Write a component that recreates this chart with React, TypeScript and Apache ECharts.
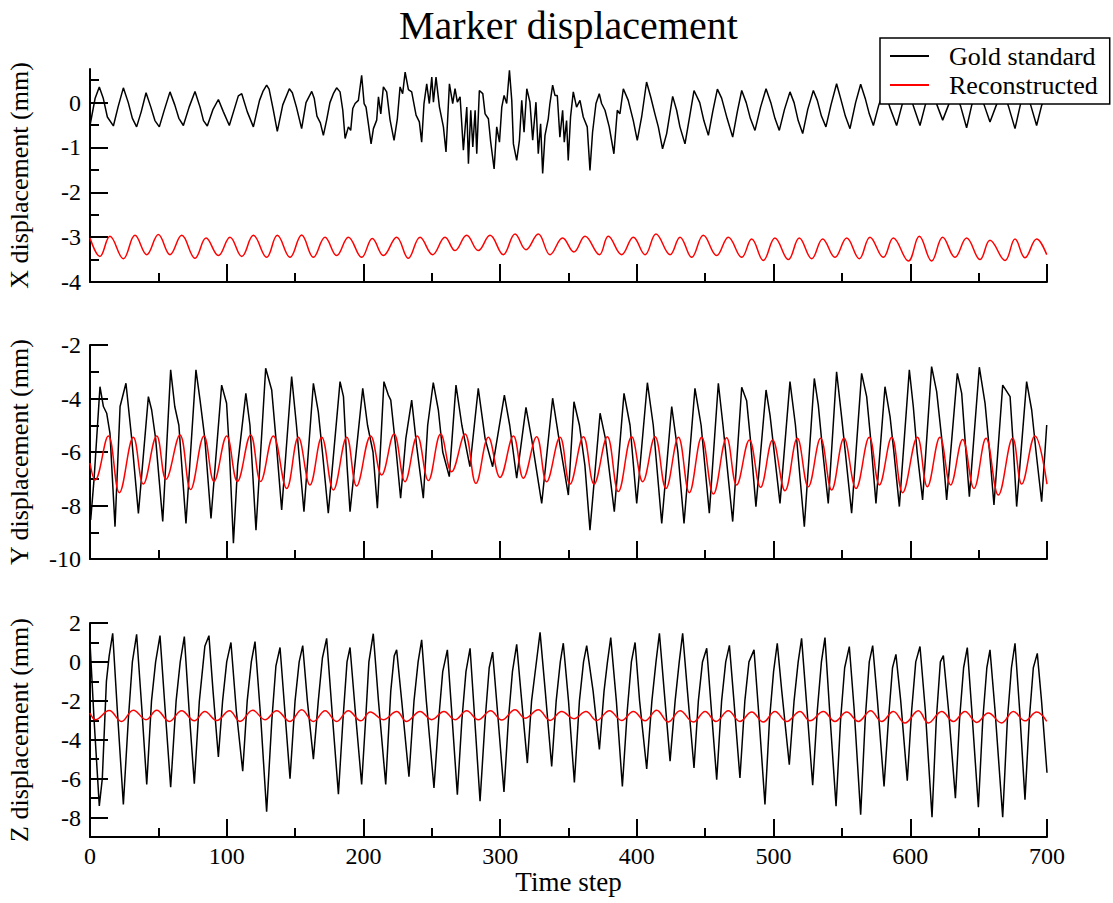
import React, { useEffect, useRef } from 'react';
import * as echarts from 'echarts';

const FONT = "'Liberation Serif', 'DejaVu Serif', 'Times New Roman', serif";

const titleText = 'Marker displacement';
const xAxisName = 'Time step';
const panelNames = ['X displacement (mm)', 'Y displacement (mm)', 'Z displacement (mm)'];
const seriesNames = ['Gold standard', 'Reconstructed'];

const xMajorTicks = [0, 100, 200, 300, 400, 500, 600, 700];
const xMinorTicks = [50, 150, 250, 350, 450, 550, 650];
const yRanges = [[-4, 0.75], [-10, -2], [-9, 2]];
const yMajorTicks = [[-4, -3, -2, -1, 0], [-10, -8, -6, -4, -2], [-8, -6, -4, -2, 0, 2]];
const yMinorTicks = [[-3.5, -2.5, -1.5, -0.5, 0.5], [-9, -7, -5, -3], [-7, -5, -3, -1, 1]];

// X displacement, gold standard [time step, mm]
const xGold = [
  [0,-0.51],[3.7,0.09],[6.8,0.35],[9.75,0.09],[12.7,-0.32],[17.1,-0.52],[20.5,-0.1],[24.4,0.33],[28,0.0],[31,-0.35],
  [34.1,-0.54],[37.5,-0.2],[41,0.22],[44.5,-0.1],[47.5,-0.4],[50.7,-0.54],[54.5,-0.15],[58.5,0.24],[62,-0.05],[65,-0.35],
  [68.3,-0.51],[72.5,-0.1],[76.8,0.25],[80.5,-0.1],[83,-0.4],[85.8,-0.52],[90,-0.15],[93.9,0.07],[97.5,-0.2],[101.9,-0.51],
  [106,-0.1],[108.5,0.15],[111,0.2],[115,-0.2],[119.5,-0.54],[124,0.05],[126.5,0.25],[129.2,0.39],[131,0.3],[134,-0.15],
  [137,-0.64],[141,-0.05],[145.8,0.31],[148,0.22],[151,-0.1],[154.8,-0.58],[158,0.0],[162.2,0.25],[164,0.1],[166,-0.3],
  [168.5,-0.45],[170.7,-0.73],[173,-0.4],[175.5,0.0],[178,0.2],[180.4,0.33],[182.9,0.24],[184.9,-0.17],[186.6,-0.8],[189,-0.54],
  [190.7,-0.62],[192.2,-0.13],[193.9,-0.02],[196.3,0.05],[198.7,0.61],[200.5,-0.02],[201.9,-0.1],[203.6,-0.47],[205.6,-0.92],[207.3,-0.58],
  [209.7,-0.39],[211,0.13],[212.7,-0.25],[214.6,0.35],[217,0.24],[219.5,-0.39],[222.4,-0.84],[224.8,-0.36],[226.8,0.35],[228.7,0.2],
  [230.5,0.68],[232.9,0.29],[235.3,0.24],[238.5,-0.28],[240.9,-0.43],[242.6,-0.88],[244.3,-0.02],[246.3,0.42],[248.2,-0.02],[250,0.57],
  [251.2,0.01],[253.1,0.57],[255.6,-0.1],[258.5,-0.54],[260.4,-1.1],[262.9,0.42],[265.3,-0.02],[267,0.31],[268.7,0.01],[270.7,0.13],
  [273.1,-1.06],[275.6,-0.1],[276.8,-1.36],[278.5,-0.17],[280,-0.99],[281.7,-0.17],[282.9,-1.14],[284.8,0.27],[287.3,0.2],[289,-0.25],
  [291.4,-0.36],[293.1,-0.88],[295.6,-1.48],[297.5,-0.54],[299.5,-0.88],[301.2,-0.1],[302.9,0.16],[304.8,-0.02],[306.8,0.72],[308.5,0.05],
  [309.7,-0.92],[312.1,-1.29],[314.1,-0.84],[315.8,0.05],[317.5,-0.66],[319.5,0.31],[321.8,0.01],[323.8,-0.84],[326.2,0.01],[327.9,-1.14],
  [329.6,-0.47],[331.1,-1.58],[332.8,-0.73],[335.2,-0.36],[336.4,-0.02],[338.4,0.39],[340.1,0.16],[341.8,0.16],[343.7,-0.77],[345.7,-0.17],
  [346.9,-0.88],[348.6,-0.4],[349.8,-1.29],[351.5,-0.32],[353.5,0.24],[355.9,-0.1],[358.4,0.05],[360.8,-0.32],[363.7,-0.54],[365.7,-1.51],
  [367.6,-0.66],[370.1,-0.02],[372.5,0.2],[374.2,-0.02],[376.7,-0.17],[379.8,-0.54],[383.2,-1.14],[385.7,-0.17],[387.6,-0.25],[390.1,0.31],
  [393.7,0.05],[397.4,-0.4],[400.3,-0.84],[403.5,-0.32],[407.1,0.46],[410.1,0.13],[413.2,-0.25],[415.7,-0.54],[418.8,-1.03],[421.8,-0.69],
  [426.2,0.14],[429.1,-0.17],[431.5,-0.54],[435.2,-0.92],[438.8,-0.28],[441.8,0.27],[446,0.0],[449,-0.4],[452.3,-0.73],[455.5,-0.2],
  [458.9,0.3],[462,0.1],[466,-0.35],[470.1,-0.77],[473.5,-0.2],[476.7,0.27],[480,0.0],[483,-0.35],[486.4,-0.62],[490.5,-0.1],
  [494.5,0.31],[498,0.0],[501,-0.35],[504.2,-0.62],[508,-0.15],[512,0.24],[515,0.0],[518,-0.4],[521.3,-0.69],[525,-0.15],
  [529.1,0.27],[532,0.05],[535,-0.3],[538.3,-0.54],[542,-0.05],[546.1,0.42],[549,0.1],[552.5,-0.3],[555.9,-0.58],[560,0.0],
  [563.7,0.41],[567,0.1],[570,-0.25],[573,-0.51],[577,-0.05],[581,0.3],[585,-0.1],[590,-0.51],[594,-0.05],[598.5,0.3],
  [602.5,-0.1],[607.1,-0.51],[611,-0.05],[615.5,0.3],[619.5,-0.05],[623.7,-0.39],[628,-0.05],[632.5,0.3],[637,-0.1],[641.2,-0.56],
  [645,-0.05],[649.5,0.3],[654,-0.05],[658.3,-0.43],[663,-0.05],[667.5,0.3],[672,-0.1],[676.6,-0.58],[680.5,-0.05],[684.5,0.3],
  [688.5,-0.1],[692.4,-0.51],[696.1,-0.06],[700,0.2],
];

// X displacement, reconstructed
const xRecon = [
  [0,-3.02],[7.3,-3.43],[14.6,-2.98],[24.4,-3.48],[32.9,-2.96],[41.5,-3.39],[50,-2.94],[58.5,-3.39],[67.1,-2.96],[76.8,-3.47],
  [84.9,-3.02],[93.9,-3.41],[102.4,-3.0],[111,-3.43],[119.5,-2.96],[129.2,-3.45],[137,-2.96],[146.3,-3.45],[154.8,-2.95],[163.4,-3.45],
  [171.9,-3.0],[180.4,-3.41],[189,-3.0],[198.7,-3.45],[206.5,-3.03],[214.6,-3.41],[224.3,-3.0],[232.8,-3.47],[241.4,-3.0],[250.6,-3.39],
  [259.7,-3.0],[267,-3.3],[275.5,-2.96],[284,-3.3],[292.6,-2.96],[302.3,-3.39],[310.9,-2.93],[318.9,-3.28],[327.9,-2.93],[336.5,-3.39],
  [345.7,-3.02],[354,-3.33],[362.1,-2.98],[372.6,-3.39],[379.1,-2.98],[388.9,-3.39],[397.4,-3.0],[406,-3.39],[414,-2.93],[424.3,-3.39],
  [431.6,-3.0],[440.1,-3.45],[448.6,-2.96],[458.4,-3.41],[466.9,-3.0],[476.7,-3.45],[484,-3.04],[492.5,-3.52],[501,-3.02],[510.8,-3.5],
  [518.8,-3.02],[527.9,-3.48],[535.9,-3.04],[544.9,-3.45],[553.5,-3.02],[562.7,-3.48],[570.5,-3.0],[580.3,-3.45],[587.6,-3.02],[598.6,-3.53],
  [606.6,-2.98],[615.6,-3.53],[623.7,-3.0],[632.7,-3.45],[641.2,-3.02],[651,-3.5],[658.3,-3.07],[669.3,-3.52],[676.6,-3.04],[683.9,-3.46],
  [692.4,-3.04],[699.8,-3.39],
];

// Y displacement, gold standard
const yGold = [
  [0.5,-8.54],[3,-7.0],[7.3,-3.56],[9.8,-4.3],[12.2,-4.55],[14.6,-5.3],[18.3,-8.79],[22,-4.3],[26.3,-3.43],[30.5,-5.5],
  [35.4,-8.3],[42.7,-3.93],[45.1,-4.43],[48,-5.5],[53.2,-8.6],[59,-2.93],[62,-4.3],[65,-5.0],[70.2,-8.67],[77.5,-2.93],
  [80.5,-4.06],[84,-5.5],[88.5,-8.48],[96.3,-3.5],[99.9,-4.18],[102,-6.0],[104.9,-9.41],[108,-6.5],[114,-3.81],[117,-5.0],
  [121.4,-8.92],[128.5,-2.87],[132.9,-3.68],[136,-5.5],[140.2,-8.17],[147.5,-3.18],[151,-5.0],[156.5,-8.23],[163.4,-3.43],[167,-4.5],
  [170,-6.0],[174.3,-8.29],[182.9,-3.37],[185.4,-3.93],[188,-6.5],[190.2,-8.23],[199.5,-3.62],[203,-5.0],[207,-6.0],[210.2,-8.1],
  [215,-3.37],[218.2,-3.87],[220,-4.06],[224,-6.0],[227.2,-7.73],[231,-5.5],[235.3,-4.06],[239,-5.8],[243.8,-7.73],[247,-5.0],
  [251.1,-3.41],[254.8,-4.43],[258,-6.0],[262.8,-6.92],[267.7,-3.5],[272,-5.0],[277.9,-6.55],[284,-3.62],[289,-5.5],[294.5,-6.55],
  [303.1,-3.87],[307,-5.0],[312.1,-6.98],[318.9,-4.33],[323,-5.5],[330.4,-7.92],[338.4,-3.99],[343,-5.5],[349.9,-7.61],[354,-4.12],
  [358,-5.0],[362,-6.5],[365.7,-8.92],[373.1,-4.55],[377,-5.5],[383.5,-8.23],[390.6,-3.81],[395,-5.0],[399.9,-7.92],[407.7,-3.41],
  [412,-5.0],[418.2,-8.67],[425.5,-4.3],[430,-6.0],[434.5,-8.67],[442.5,-3.62],[447,-5.0],[453,-8.29],[459.6,-3.43],[463,-5.0],
  [470.1,-8.6],[476.7,-3.58],[480.3,-4.08],[483,-5.5],[487.1,-8.04],[494.5,-3.68],[497.4,-4.62],[500,-5.8],[504.7,-7.92],[512,-3.37],
  [516,-5.0],[522.5,-8.79],[529.8,-3.25],[532.7,-4.24],[536,-6.0],[540,-7.92],[546.1,-3.0],[550,-4.8],[557.1,-8.29],[564.4,-3.06],
  [568.1,-3.93],[571,-5.5],[574.9,-7.92],[581.5,-3.56],[585.2,-4.68],[588,-6.0],[592,-8.04],[599.3,-2.93],[602.2,-4.3],[605,-6.0],
  [609,-7.79],[615.6,-2.81],[619.3,-3.74],[623,-5.5],[626.6,-7.79],[634.4,-3.06],[637.6,-3.81],[640,-5.5],[643.2,-7.67],[650.5,-2.83],
  [654.7,-4.18],[658,-6.0],[661.2,-7.98],[667.6,-3.5],[673,-3.93],[675,-5.5],[677.8,-8.04],[685.1,-3.37],[688.8,-4.43],[692,-6.0],
  [696.1,-7.86],[699.8,-4.99],
];

// Y displacement, reconstructed
const yRecon = [
  [0,-6.42],[3.7,-7.05],[13.4,-5.4],[21.5,-7.52],[31.7,-5.45],[39,-7.2],[48.8,-5.4],[55.6,-7.02],[65.8,-5.36],[73.6,-7.4],
  [83.4,-5.4],[90.7,-7.1],[100,-5.4],[107.8,-7.1],[117.5,-5.36],[124.8,-7.1],[134.1,-5.4],[143.9,-7.36],[152.4,-5.45],[160.9,-7.23],
  [169.5,-5.45],[178,-7.42],[187.8,-5.45],[195,-7.27],[205.3,-5.4],[213.3,-6.86],[222.4,-5.33],[230.4,-7.11],[239.4,-5.4],[247.5,-7.07],
  [256.5,-5.33],[264.5,-6.74],[274.3,-5.33],[282.3,-7.17],[291.4,-5.45],[299.9,-6.95],[309.7,-5.4],[317,-6.98],[326.7,-5.43],[334,-7.11],
  [343.8,-5.45],[351.1,-7.2],[360.9,-5.43],[368.7,-7.2],[378.4,-5.43],[386.5,-7.48],[396.2,-5.43],[404.3,-7.11],[413.3,-5.43],[421.3,-7.36],
  [430.4,-5.45],[438.4,-7.52],[447.4,-5.45],[456,-7.57],[465.7,-5.47],[473,-7.23],[482.3,-5.55],[490.5,-7.32],[499.3,-5.55],[508.4,-7.45],
  [517.4,-5.49],[525.4,-7.3],[534.4,-5.49],[542.5,-7.42],[551.5,-5.49],[560.3,-7.36],[570,-5.45],[577.4,-7.23],[586.4,-5.45],[594.4,-7.52],
  [605.2,-5.45],[612.5,-7.3],[621.7,-5.45],[629.5,-7.23],[638.3,-5.53],[646.6,-7.36],[655.4,-5.49],[664.4,-7.61],[674.9,-5.49],[681.5,-7.2],
  [691.2,-5.4],[700,-7.2],
];

// Z displacement, gold standard
const zGold = [
  [0,1.0],[3,-3.0],[6.8,-7.4],[9,-6.0],[12,-1.0],[14,0.3],[16.6,1.47],[20,-2.5],[24.4,-7.33],[28,-3.0],
  [31,0.0],[34.1,1.42],[38,-2.5],[41.5,-6.3],[45,-2.0],[48,0.0],[51.2,1.35],[55,-2.5],[59,-6.44],[63,-2.0],
  [66,0.0],[69,1.3],[72.5,-2.5],[76.3,-6.26],[80,-2.0],[84,0.8],[87,1.35],[90,-1.5],[93.9,-4.89],[97,-2.0],
  [100,0.0],[103.1,1.0],[107,-2.5],[111.7,-5.62],[115,-2.0],[118,0.0],[120.7,1.04],[125,-3.0],[129.2,-7.7],[133,-3.0],
  [136,-0.2],[139,0.74],[142.5,-2.5],[146.3,-6.0],[150,-2.0],[153,0.0],[155.6,0.84],[159,-2.0],[163.4,-5.0],[167,-2.0],
  [170,0.2],[173.1,1.21],[177,-2.5],[181.7,-6.8],[185,-3.0],[188,0.0],[190.2,0.74],[194,-2.5],[198.7,-6.3],[202,-2.5],
  [204,0.0],[207.2,1.45],[211,-2.0],[216.3,-6.3],[220,-1.5],[222.5,0.3],[224.3,0.62],[228,-2.0],[233.3,-5.9],[237,-2.0],
  [240,0.0],[242.6,1.13],[246,-2.0],[251.6,-6.48],[255,-3.0],[258,-0.5],[261.4,0.62],[264.5,-2.5],[268.7,-6.82],[272,-3.0],
  [275,-0.5],[278,0.7],[281,-2.5],[285.3,-7.16],[289,-3.0],[292,-0.3],[294.5,0.5],[298,-2.5],[302.8,-6.68],[306,-3.0],
  [309,-0.5],[312.1,0.9],[315.5,-1.8],[319.9,-5.2],[323,-2.0],[326,-0.3],[329.2,1.52],[333,-1.5],[337.7,-5.37],[341,-2.0],
  [344,0.0],[346.2,0.96],[350,-2.0],[354.3,-6.2],[358,-2.0],[361,0.0],[363.3,0.84],[368,-1.5],[372.6,-4.5],[376,-1.5],
  [378.5,0.0],[380.9,1.25],[385,-2.0],[389.4,-6.4],[393,-2.5],[396,0.0],[398.7,1.0],[402,-2.0],[407.2,-5.5],[411,-2.0],
  [414,0.0],[416.5,1.47],[420,-1.5],[424.3,-5.1],[428,-2.0],[431,0.0],[433.5,1.47],[437,-1.5],[441.8,-5.45],[445,-2.0],
  [448,0.0],[451.1,0.7],[454,-2.0],[458.4,-6.05],[462,-2.0],[465,0.0],[467.7,0.85],[471,-2.0],[475.4,-5.97],[479,-2.0],
  [482,0.0],[485.7,0.62],[489,-2.5],[493.7,-7.33],[497,-3.0],[500,-0.5],[502.7,0.96],[506,-1.5],[511.5,-5.28],[515,-2.0],
  [518,0.0],[520.5,1.21],[524,-2.0],[528.6,-6.34],[532,-2.5],[535,0.0],[537.6,1.25],[541,-2.5],[545.7,-7.42],[549,-3.0],
  [552,-0.3],[555.4,0.79],[559,-2.5],[563.7,-7.85],[567,-3.0],[570,0.0],[572.5,0.84],[576,-2.0],[580.8,-6.4],[584,-3.0],
  [587,-0.3],[589.5,0.39],[593,-2.0],[597.8,-6.1],[601,-2.5],[604,0.0],[607.1,0.79],[611,-2.5],[615.9,-7.98],[619,-3.0],
  [622,0.0],[624.2,0.32],[628,-2.5],[633,-7.0],[636,-3.0],[639,-0.3],[641.7,0.74],[645,-2.5],[649.8,-7.47],[653,-3.0],
  [656,-0.3],[658.3,0.62],[662,-2.5],[667.6,-7.98],[671,-3.0],[674,-0.3],[676.6,0.96],[680,-2.5],[683.9,-7.08],[687,-3.0],
  [690,-0.3],[692.9,0.44],[696,-2.0],[700,-5.7],
];

// Z displacement, reconstructed
const zRecon = [
  [0,-2.63],[4,-2.97],[14,-2.5],[23,-3.06],[31.7,-2.48],[41,-2.97],[48.8,-2.48],[58,-3.06],[67,-2.51],[76.3,-3.03],
  [84,-2.55],[92.7,-3.01],[102,-2.51],[109.7,-3.06],[119,-2.48],[128,-2.97],[136.5,-2.51],[146.3,-3.06],[154.8,-2.46],[163.4,-3.06],
  [172,-2.51],[180.4,-3.06],[189,-2.51],[198,-3.03],[205,-2.58],[214.6,-2.97],[224.3,-2.55],[231.6,-3.06],[241.4,-2.55],[249.9,-2.97],
  [258.9,-2.55],[267,-2.97],[275.5,-2.51],[284,-2.97],[293,-2.51],[301.1,-2.99],[310.9,-2.46],[318.2,-2.89],[327.9,-2.46],[336.5,-3.01],
  [345,-2.55],[354,-2.92],[362.8,-2.55],[370.6,-3.01],[379.9,-2.51],[388.9,-3.01],[397.4,-2.55],[406,-3.03],[414.5,-2.48],[423,-3.09],
  [431.6,-2.51],[441.3,-3.09],[449.9,-2.55],[457.9,-3.06],[466.9,-2.51],[475.4,-3.06],[484,-2.58],[492.5,-3.09],[501,-2.55],[509.6,-3.06],
  [519.3,-2.55],[526.6,-3.03],[536.4,-2.55],[544.9,-3.06],[553.5,-2.58],[562,-3.06],[571,-2.51],[579.1,-3.06],[587.6,-2.55],[596.1,-3.14],
  [605.9,-2.51],[613.2,-3.14],[623,-2.55],[631.5,-3.06],[640,-2.55],[648.6,-3.11],[657.1,-2.63],[666.8,-3.14],[675.4,-2.55],[683.9,-3.03],
  [692.4,-2.58],[699.8,-3.06],
];

const goldData = [xGold, yGold, zGold];
const reconData = [xRecon, yRecon, zRecon];

export default function App() {
  const ref = useRef<HTMLDivElement>(null);

  useEffect(() => {
    if (!ref.current) return;
    const chart = echarts.init(ref.current, null, { renderer: 'svg' });

    const gridTops = [69, 345, 623];
    const gridHeights = [213, 214, 214];
    const AX = '#000';
    const grids = gridTops.map((t, i) => ({
      left: 90, width: 957, top: t, height: gridHeights[i], containLabel: false, outerBoundsMode: 'none',
    }));

    const tickLine = { color: AX, width: 2 };
    const labelStyle = { color: '#000', fontSize: 24, fontFamily: FONT, fontWeight: 'normal' };
    const xAxes: any[] = [];
    const yAxes: any[] = [];
    for (let i = 0; i < 3; i++) {
      xAxes.push({
        type: 'value', gridIndex: i, position: 'bottom', min: 0, max: 700,
        axisLine: { show: true, onZero: false, lineStyle: { color: AX, width: 2 } },
        axisTick: { show: true, inside: true, length: 18, customValues: xMajorTicks, lineStyle: tickLine },
        axisLabel: { show: i === 2, customValues: xMajorTicks, margin: 7, ...labelStyle },
        splitLine: { show: false },
        name: i === 2 ? xAxisName : '',
        nameLocation: 'middle', nameGap: 31,
        nameTextStyle: { fontSize: 27, fontFamily: FONT, color: '#000' },
      });
      yAxes.push({
        type: 'value', gridIndex: i, position: 'left', min: yRanges[i][0], max: yRanges[i][1],
        axisLine: { show: true, onZero: false, lineStyle: { color: AX, width: 2 } },
        axisTick: { show: true, inside: true, length: 18, customValues: yMajorTicks[i], lineStyle: tickLine },
        axisLabel: { show: true, customValues: yMajorTicks[i], margin: 9, ...labelStyle },
        splitLine: { show: false },
        name: panelNames[i], nameLocation: 'middle', nameGap: 58,
        nameTextStyle: { fontSize: 26, fontFamily: FONT, color: '#000' },
      });
    }
    for (let i = 0; i < 3; i++) {
      xAxes.push({
        type: 'value', gridIndex: i, position: 'bottom', offset: 0, min: 0, max: 700,
        axisLine: { show: false, onZero: false },
        axisTick: { show: true, inside: true, length: 9, customValues: xMinorTicks, lineStyle: tickLine },
        axisLabel: { show: false }, splitLine: { show: false },
      });
      yAxes.push({
        type: 'value', gridIndex: i, position: 'left', offset: 0, min: yRanges[i][0], max: yRanges[i][1],
        axisLine: { show: false, onZero: false },
        axisTick: { show: true, inside: true, length: 9, customValues: yMinorTicks[i], lineStyle: tickLine },
        axisLabel: { show: false }, splitLine: { show: false },
      });
    }

    const series: any[] = [];
    for (let i = 0; i < 3; i++) {
      series.push({
        type: 'line', name: seriesNames[0], xAxisIndex: i, yAxisIndex: i,
        data: goldData[i], showSymbol: false, symbol: 'none', smooth: false,
        color: '#000', itemStyle: { color: '#000' },
        lineStyle: { color: '#000', width: 1.5 }, z: 3,
      });
      series.push({
        type: 'line', name: seriesNames[1], xAxisIndex: i, yAxisIndex: i,
        data: reconData[i], showSymbol: false, symbol: 'none', smooth: 0.4,
        color: '#ff0000', itemStyle: { color: '#ff0000' },
        lineStyle: { color: '#ff0000', width: 1.5 }, z: 3,
      });
    }

    chart.setOption({
      animation: false,
      backgroundColor: '#fff',
      textStyle: { fontFamily: FONT, color: '#000' },
      title: {
        text: titleText, left: 399, top: 5, padding: 0,
        textStyle: { fontSize: 40, fontWeight: 'normal', fontFamily: FONT, color: '#000' },
      },
      legend: {
        show: true, left: 880, top: 38, orient: 'vertical',
        backgroundColor: '#fff', borderColor: '#000', borderWidth: 1.5, borderRadius: 0,
        padding: [5, 12, 6, 10], itemWidth: 39, itemHeight: 2, itemGap: 3, icon: 'rect',
        selectedMode: false, data: seriesNames,
        textStyle: { fontFamily: FONT, fontSize: 26, color: '#000', lineHeight: 26, padding: [0, 0, 0, 15] },
        z: 10,
      },
      grid: grids,
      xAxis: xAxes,
      yAxis: yAxes,
      series,
    });

    return () => chart.dispose();
  }, []);

  return (
    <div
      ref={ref}
      style={{ position: 'absolute', left: 0, top: 0, width: 1113, height: 903, background: '#fff' }}
    />
  );
}
